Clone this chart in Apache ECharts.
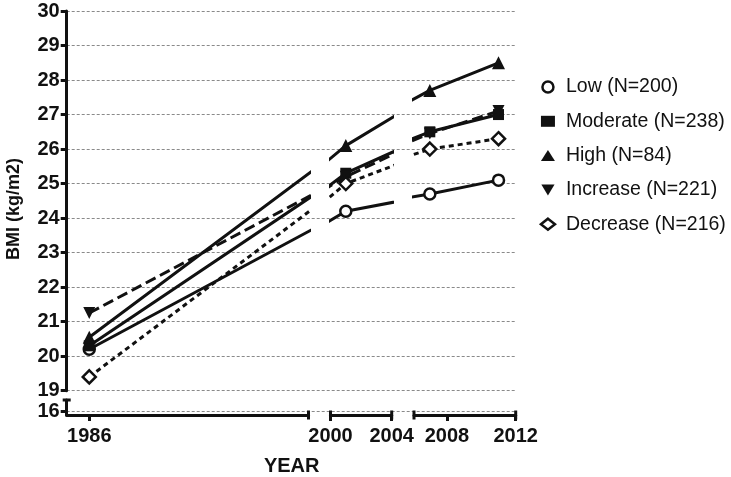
<!DOCTYPE html>
<html><head><meta charset="utf-8">
<script src="https://cdn.jsdelivr.net/npm/echarts@6/dist/echarts.min.js"></script>
<style>html,body{margin:0;padding:0;background:#fff}#c{width:731px;height:477px}</style>
</head><body><div id="c"></div>
<script>
// ---- data ----
const years = [1986, 2001, 2007, 2011];
const seriesNames = ['Low (N=200)', 'Moderate (N=238)', 'High (N=84)', 'Increase (N=221)', 'Decrease (N=216)'];
const low = [20.2, 24.2, 24.7, 25.1];
const moderate = [20.3, 25.3, 26.5, 27.0];
const high = [20.55, 26.1, 27.7, 28.5];
const increase = [21.25, 25.2, 26.45, 27.1];
const decrease = [19.4, 25.0, 26.0, 26.3];
const yMainRange = [19, 30];
const yLowerTicks = [16];
const segRanges = [[1984.683, 1998.8], [2000, 2004], [2006.08, 2012]];
const segTicks = [[1986], [2000, 2004], [2008, 2012]];
const xTitle = 'YEAR';
const yTitle = 'BMI (kg/m2)';

// ---- layout / style ----
const FONT = '"Liberation Sans", Arial, Helvetica, sans-serif';
const INK = '#111';
const plotLeft = 66.7, plotTop = 11, plotBottom = 390.7, plotRight = 515.7;
const segPix = [[66.7, 308.5], [330.5, 391.7], [414, 515.7]];
const axisY = 415;

const TRI_DOWN = 'path://M0,0 L12,0 L6,10 Z';
const styles = [
  {symbol: 'circle', size: 11, fill: '#fff', type: 'solid'},
  {symbol: 'rect', size: 11, fill: INK, type: 'solid'},
  {symbol: 'triangle', size: 13, fill: INK, type: 'solid'},
  {symbol: TRI_DOWN, size: 12, fill: INK, type: [11, 5]},
  {symbol: 'diamond', size: 13, fill: '#fff', type: [5, 4]}
];
const values = [low, moderate, high, increase, decrease];

const grids = [];
const xAxes = [];
const yAxes = [];
const series = [];

// background grid with main y axis & gridlines
grids.push({left: plotLeft, top: plotTop, width: plotRight - plotLeft, height: plotBottom - plotTop});
xAxes.push({gridIndex: 0, type: 'value', show: false, min: 0, max: 1});
yAxes.push({
  gridIndex: 0, type: 'value', min: yMainRange[0], max: yMainRange[1], interval: 1,
  axisLine: {show: true, lineStyle: {color: INK, width: 3}},
  axisTick: {show: true, length: 6, lineStyle: {color: INK, width: 3}},
  axisLabel: {color: INK, fontSize: 20, fontWeight: 'bold', fontFamily: FONT, margin: 7},
  splitLine: {show: true, lineStyle: {color: '#8a8a8a', width: 1, type: [3, 2]}}
});

// lower y segment (16)
grids.push({left: plotLeft, top: 400, width: plotRight - plotLeft, height: axisY - 400});
xAxes.push({gridIndex: 1, type: 'value', show: false, min: 0, max: 1});
yAxes.push({
  gridIndex: 1, type: 'value', min: 15.9, max: 16.33,
  axisLine: {show: true, symbol: ['none', 'rect'], symbolSize: [8, 3], lineStyle: {color: INK, width: 3}},
  axisTick: {show: true, length: 6, customValues: yLowerTicks, lineStyle: {color: INK, width: 3}},
  axisLabel: {color: INK, fontSize: 20, fontWeight: 'bold', fontFamily: FONT, margin: 7, customValues: yLowerTicks},
  splitLine: {show: true, lineStyle: {color: '#8a8a8a', width: 1, type: [3, 2]}}
});

// data grids, one per x segment
segPix.forEach((p, i) => {
  const gi = grids.length;
  grids.push({left: p[0], top: plotTop, width: p[1] - p[0], height: plotBottom - plotTop});
  xAxes.push({
    gridIndex: gi, type: 'value', min: segRanges[i][0], max: segRanges[i][1],
    position: 'bottom', offset: axisY - plotBottom,
    axisLine: {show: true, symbol: i === 0 ? ['none', 'rect'] : ['rect', 'rect'], symbolSize: [9, 3],
      lineStyle: {color: INK, width: 3}},
    axisTick: {show: true, length: 6, customValues: segTicks[i], lineStyle: {color: INK, width: 3}},
    axisLabel: {color: INK, fontSize: 20, fontWeight: 'bold', fontFamily: FONT, margin: 11,
      customValues: segTicks[i], formatter: v => String(Math.round(v))},
    splitLine: {show: false}
  });
  yAxes.push({gridIndex: gi, type: 'value', min: yMainRange[0], max: yMainRange[1], show: false, splitLine: {show: false}});
  values.forEach((vals, s) => {
    const st = styles[s];
    series.push({
      name: seriesNames[s], type: 'line', xAxisIndex: gi, yAxisIndex: gi,
      data: years.map((y, k) => [y, vals[k]]),
      symbol: st.symbol, symbolSize: st.size, showAllSymbol: true, clip: true,
      lineStyle: {color: INK, width: 3, type: st.type},
      itemStyle: {color: st.fill, borderColor: INK, borderWidth: st.fill === '#fff' ? 2.5 : 0},
      emphasis: {disabled: true}, animation: false, z: 3 + s
    });
  });
});

const option = {
  backgroundColor: '#fff',
  animation: false,
  grid: grids, xAxis: xAxes, yAxis: yAxes, series: series,
  legend: {
    data: seriesNames.map((n, s) => ({
      name: n, icon: styles[s].symbol,
      itemStyle: {color: styles[s].fill, borderColor: INK, borderWidth: styles[s].fill === '#fff' ? 2.5 : 0}
    })),
    orient: 'vertical', left: 534.7, top: 72, itemGap: 14.3, padding: 5,
    itemWidth: 14, itemHeight: 11, selectedMode: false,
    textStyle: {color: INK, fontSize: 19.5, fontFamily: FONT, padding: [0, 0, 0, 6]}
  },
  graphic: [
    {type: 'text', x: 14, y: 209, rotation: Math.PI / 2,
      style: {text: yTitle, font: 'bold 18px ' + FONT, fill: INK, align: 'center', verticalAlign: 'middle'}},
    {type: 'text', x: 291.7, y: 466.7,
      style: {text: xTitle, font: 'bold 20px ' + FONT, fill: INK, align: 'center', verticalAlign: 'middle'}}
  ]
};
const chart = echarts.init(document.getElementById('c'), null, {renderer: 'canvas'});
chart.setOption(option);
</script>
</body></html>
